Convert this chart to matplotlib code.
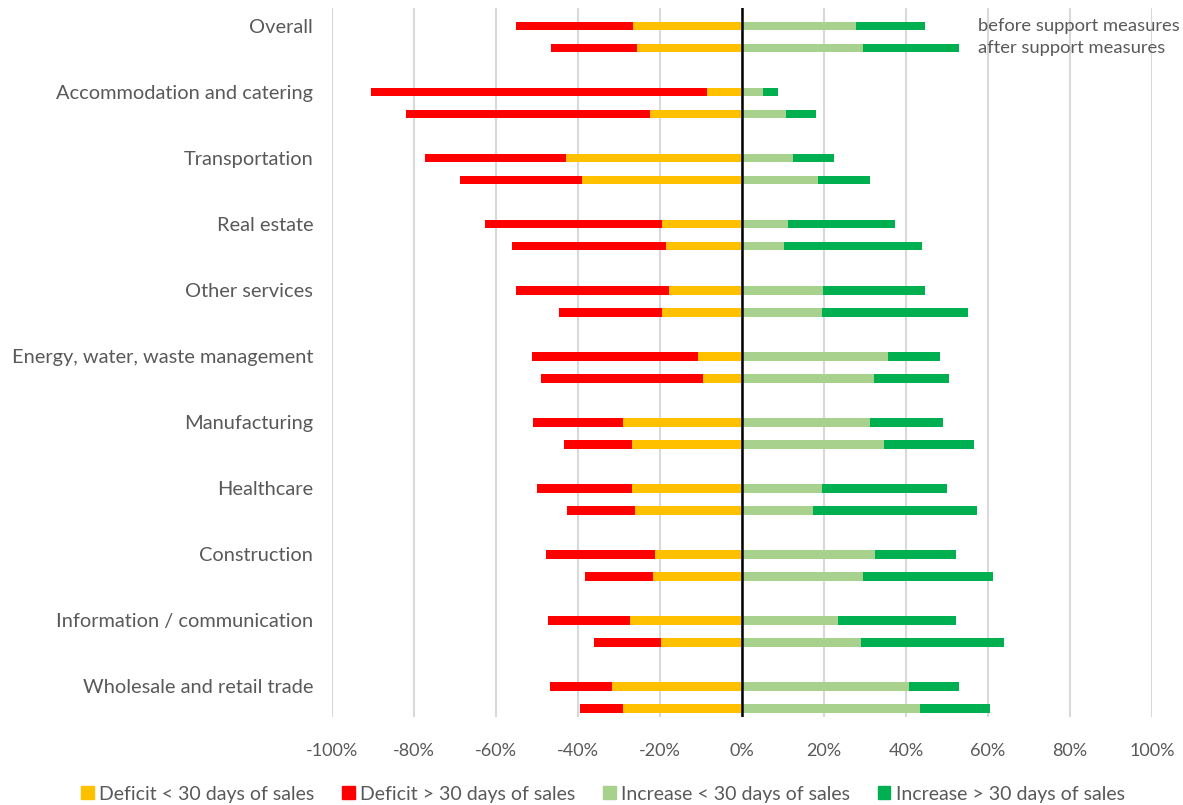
import matplotlib
matplotlib.use("Agg")
import matplotlib.pyplot as plt
from matplotlib.patches import Patch
import numpy as np

categories = ["Overall", "Accommodation and catering", "Transportation", "Real estate",
              "Other services", "Energy, water, waste management", "Manufacturing",
              "Healthcare", "Construction", "Information / communication",
              "Wholesale and retail trade"]

# segment lengths in percent
def_lt30_before = [26.5, 8.5, 43.0, 19.5, 17.7, 10.7, 29.0, 26.8, 21.2, 27.3, 31.7]
def_gt30_before = [28.7, 82.1, 34.4, 43.1, 37.5, 40.6, 21.9, 23.2, 26.6, 20.1, 15.2]
inc_lt30_before = [27.7, 5.0, 12.4, 11.2, 19.8, 35.6, 31.2, 19.5, 32.5, 23.3, 40.8]
inc_gt30_before = [17.0, 3.9, 10.0, 26.1, 24.9, 12.6, 17.8, 30.4, 19.6, 28.8, 12.1]

def_lt30_after = [25.6, 22.5, 39.1, 18.6, 19.5, 9.4, 26.8, 26.0, 21.6, 19.8, 29.0]
def_gt30_after = [20.9, 59.4, 29.7, 37.5, 25.2, 39.7, 16.6, 16.6, 16.6, 16.2, 10.5]
inc_lt30_after = [29.5, 10.7, 18.5, 10.2, 19.5, 32.1, 34.7, 17.3, 29.5, 29.0, 43.4]
inc_gt30_after = [23.5, 7.4, 12.6, 33.6, 35.7, 18.3, 21.8, 40.0, 31.8, 34.9, 17.0]

legend_labels = ["Deficit < 30 days of sales", "Deficit > 30 days of sales",
                 "Increase < 30 days of sales", "Increase > 30 days of sales"]
row_labels = ["before support measures", "after support measures"]

C_YEL = "#FFC000"
C_RED = "#FF0000"
C_LG = "#A9D18E"
C_DG = "#00B050"
GRAY = "#595959"

plt.rcParams['font.family'] = ['Lato', 'DejaVu Sans']

fig = plt.figure(figsize=(11.83, 8.05), dpi=100)
ax = fig.add_axes([332/1183, 1 - 717/805, (1152-332)/1183, (717-8)/805])

n = len(categories)
y_before = np.arange(n) * 3.0
y_after = y_before + 1.0
h = 0.4

for ys, dl, dg, il, ig in [(y_before, def_lt30_before, def_gt30_before, inc_lt30_before, inc_gt30_before),
                           (y_after, def_lt30_after, def_gt30_after, inc_lt30_after, inc_gt30_after)]:
    dl = np.array(dl); dg = np.array(dg); il = np.array(il); ig = np.array(ig)
    ax.barh(ys, -dl, height=h, color=C_YEL, zorder=3)
    ax.barh(ys, -dg, left=-dl, height=h, color=C_RED, zorder=3)
    ax.barh(ys, il, height=h, color=C_LG, zorder=3)
    ax.barh(ys, ig, left=il, height=h, color=C_DG, zorder=3)

ax.set_xlim(-100, 100)
ax.set_ylim(y_after[-1] + 0.4, -0.82)
ax.set_xticks(np.arange(-100, 101, 20))
ax.set_xticklabels([f"{v}%" for v in range(-100, 101, 20)], color=GRAY, fontsize=13)
ax.tick_params(axis='x', length=0, pad=19)
ax.set_yticks(y_before)
ax.set_yticklabels(categories, color=GRAY, fontsize=14.4)
ax.tick_params(axis='y', length=0, pad=13.5)
for sp in ax.spines.values():
    sp.set_visible(False)
ax.grid(axis='x', color="#D9D9D9", linewidth=1.5, zorder=0)
ax.axvline(0, color="black", linewidth=1.8, zorder=4)

ax.text(57.6, y_before[0], row_labels[0], color=GRAY, fontsize=13.2, va='center', ha='left')
ax.text(57.6, y_after[0], row_labels[1], color=GRAY, fontsize=13.2, va='center', ha='left')

handles = [Patch(color=c) for c in [C_YEL, C_RED, C_LG, C_DG]]
leg = fig.legend(handles, legend_labels, loc='center', bbox_to_anchor=(603/1183, 1 - 794/805),
                 ncol=4, frameon=False, fontsize=14, handlelength=0.65, handleheight=0.65,
                 handletextpad=0.3, columnspacing=1.4, borderpad=0)
for t in leg.get_texts():
    t.set_color(GRAY)

fig.savefig("out.png", dpi=100)
